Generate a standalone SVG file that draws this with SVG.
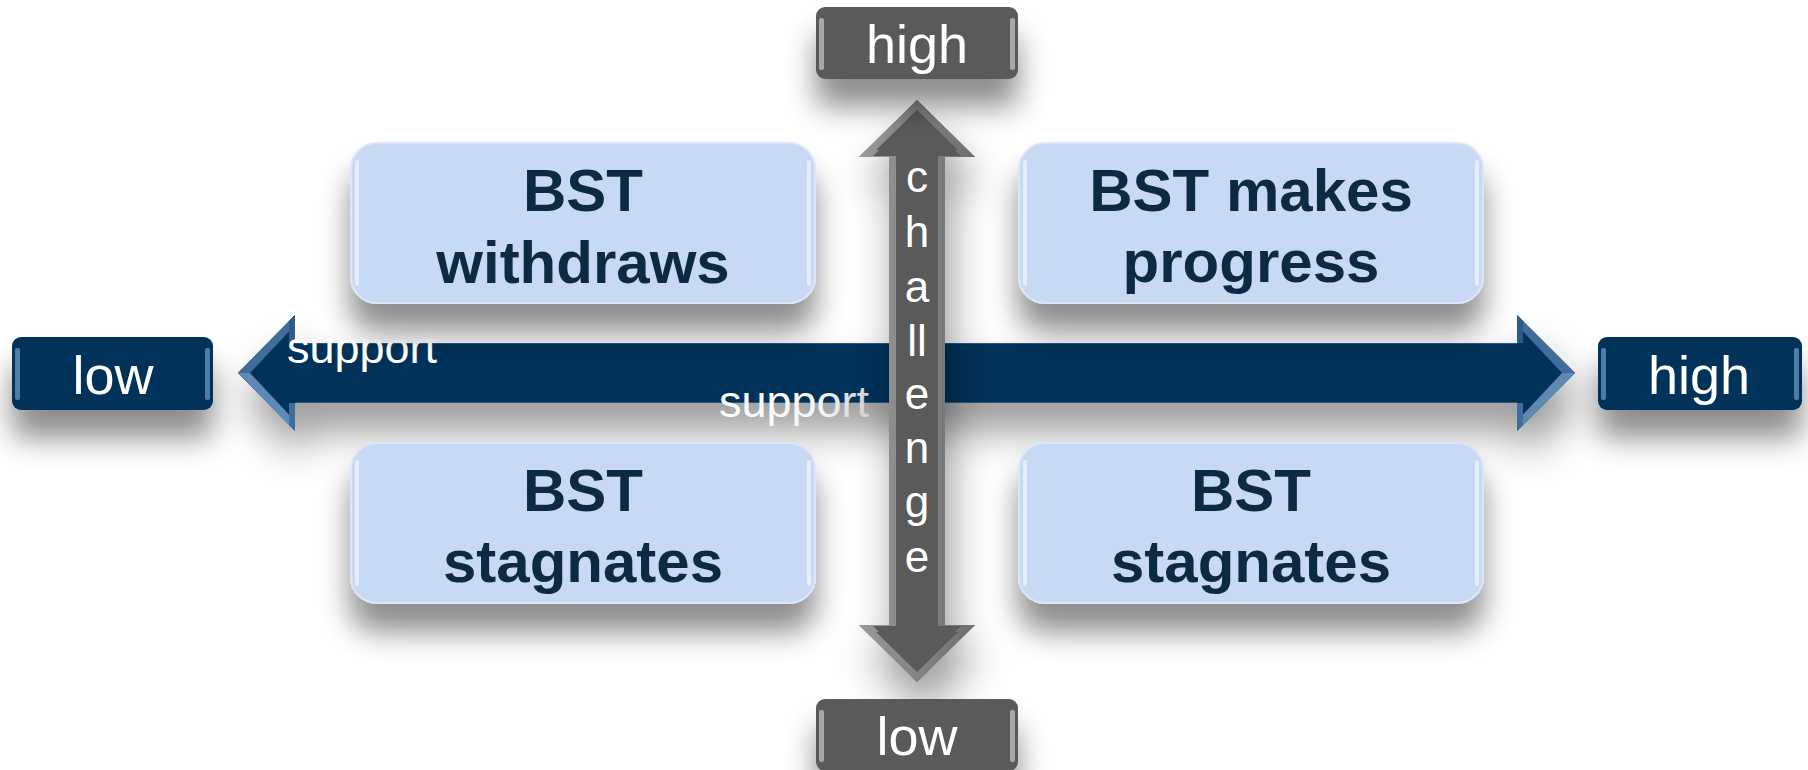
<svg xmlns="http://www.w3.org/2000/svg" width="1808" height="770" viewBox="0 0 1808 770">
<defs>
<style>
.quad rect.q{fill:#c8d9f4;stroke:#dbe6f8;stroke-width:2}
.qt{font-family:"Liberation Sans",Arial,sans-serif;font-weight:bold;font-size:60px;fill:#0f2944;text-anchor:middle}
.lt{font-family:"Liberation Sans",Arial,sans-serif;font-size:54px;fill:#ffffff;text-anchor:middle}
.st{font-family:"Liberation Sans",Arial,sans-serif;font-size:45px;fill:#ffffff}
.ch{font-family:"Liberation Sans",Arial,sans-serif;font-size:44px;fill:#ffffff;text-anchor:middle}
.navy{fill:#06325a}
.gray{fill:#5a5a5a}
.hl{fill:#ffffff;opacity:0.55}
</style>
<filter id="sh" filterUnits="userSpaceOnUse" x="-100" y="-100" width="2008" height="970">
<feGaussianBlur in="SourceAlpha" stdDeviation="15" result="b"/>
<feOffset in="b" dy="28" result="o"/>
<feComponentTransfer in="o" result="s"><feFuncA type="linear" slope="0.45"/></feComponentTransfer>
<feMerge><feMergeNode in="s"/><feMergeNode in="SourceGraphic"/></feMerge>
</filter>
<filter id="shA" filterUnits="userSpaceOnUse" x="-100" y="-100" width="2008" height="970">
<feGaussianBlur in="SourceAlpha" stdDeviation="20" result="b"/>
<feOffset in="b" dx="6" dy="28" result="o"/>
<feComponentTransfer in="o" result="s"><feFuncA type="linear" slope="0.4"/></feComponentTransfer>
<feMerge><feMergeNode in="s"/><feMergeNode in="SourceGraphic"/></feMerge>
</filter>
<linearGradient id="supg" x1="0" y1="0" x2="1" y2="0">
<stop offset="0" stop-color="#ffffff"/><stop offset="0.7" stop-color="#f4f4f4"/><stop offset="1" stop-color="#cfcfcf"/>
</linearGradient>
<linearGradient id="gbev" x1="0" y1="0" x2="1" y2="0">
<stop offset="0" stop-color="#9a9a9a"/><stop offset="1" stop-color="#6e6e6e"/>
</linearGradient>
<clipPath id="vclip"><polygon points="917,100 975,157 945,157 945,625 975,625 917,682 859,625 889,625 889,157 859,157"/></clipPath>
</defs>
<rect width="1808" height="770" fill="#ffffff"/>

<g id="connectors">
<g id="support-arrow" filter="url(#shA)">
<polygon class="navy" points="238,373 295,315 295,343 1517,343 1517,315 1575,373 1517,431 1517,403 295,403 295,431"/>
<polygon fill="#3f6e9a" points="238,373 295,315 295,325 250,373"/>
<polygon fill="#5d8ab4" points="238,373 250,373 295,421 295,431"/>
<polygon fill="#2f5c88" points="289,321 295,315 295,343 289,343"/>
<polygon fill="#3f6e9a" points="289,403 295,403 295,431 289,425"/>
<polygon fill="#3f6e9a" points="1575,373 1517,315 1517,325 1562,373"/>
<polygon fill="#5d8ab4" points="1575,373 1562,373 1517,421 1517,431"/>
<polygon fill="#2f5c88" points="1517,315 1523,321 1523,343 1517,343"/>
<polygon fill="#3f6e9a" points="1517,403 1523,403 1523,425 1517,431"/>
<line x1="295" y1="343.5" x2="1517" y2="343.5" stroke="#2a5580" stroke-width="1"/>
<line x1="295" y1="402.5" x2="1517" y2="402.5" stroke="#2a5580" stroke-width="1"/>
</g>
<g id="challenge-arrow" filter="url(#shA)">
<polygon class="gray" points="917,100 975,157 945,157 945,625 975,625 917,682 859,625 889,625 889,157 859,157"/>
<g clip-path="url(#vclip)">
<polygon fill="none" stroke="url(#gbev)" stroke-width="14" stroke-linejoin="miter" points="917,100 975,157 945,157 945,625 975,625 917,682 859,625 889,625 889,157 859,157"/>
</g>
<polygon class="gray" points="917,112 961,156 938,156 938,626 961,626 917,670 873,626 896,626 896,156 873,156"/>
</g>
</g>

<g id="label-support-1"><text class="st" x="287" y="363">support</text></g>
<g id="label-support-2"><text class="st" x="719" y="417" style="fill:url(#supg)">support</text></g>
<g id="label-challenge">
<text class="ch" x="917" y="192">c</text>
<text class="ch" x="917" y="247">h</text>
<text class="ch" x="917" y="302">a</text>
<text class="ch" x="917" y="356">ll</text>
<text class="ch" x="917" y="409">e</text>
<text class="ch" x="917" y="463">n</text>
<text class="ch" x="917" y="517">g</text>
<text class="ch" x="917" y="572">e</text>
</g>

<g id="q-withdraws" class="quad" filter="url(#sh)">
<rect class="q" x="351" y="143" width="464" height="160" rx="26"/>
<rect class="hl" x="355" y="160" width="4" height="126" rx="2"/>
<rect class="hl" x="807" y="160" width="4" height="126" rx="2"/>
<text class="qt" x="583" y="211">BST</text>
<text class="qt" x="583" y="283">withdraws</text>
</g>
<g id="q-progress" class="quad" filter="url(#sh)">
<rect class="q" x="1019" y="143" width="464" height="160" rx="26"/>
<rect class="hl" x="1023" y="160" width="4" height="126" rx="2"/>
<rect class="hl" x="1475" y="160" width="4" height="126" rx="2"/>
<text class="qt" x="1251" y="211">BST makes</text>
<text class="qt" x="1251" y="282">progress</text>
</g>
<g id="q-stagnates-left" class="quad" filter="url(#sh)">
<rect class="q" x="351" y="443" width="464" height="160" rx="26"/>
<rect class="hl" x="355" y="460" width="4" height="126" rx="2"/>
<rect class="hl" x="807" y="460" width="4" height="126" rx="2"/>
<text class="qt" x="583" y="511">BST</text>
<text class="qt" x="583" y="582">stagnates</text>
</g>
<g id="q-stagnates-right" class="quad" filter="url(#sh)">
<rect class="q" x="1019" y="443" width="464" height="160" rx="26"/>
<rect class="hl" x="1023" y="460" width="4" height="126" rx="2"/>
<rect class="hl" x="1475" y="460" width="4" height="126" rx="2"/>
<text class="qt" x="1251" y="511">BST</text>
<text class="qt" x="1251" y="582">stagnates</text>
</g>

<g id="challenge-high" filter="url(#sh)">
<rect class="gray" x="816" y="7" width="202" height="72" rx="9"/>
<rect fill="#a8a8a8" x="819" y="18" width="5" height="52" rx="2"/>
<rect fill="#a8a8a8" x="1010" y="18" width="5" height="52" rx="2"/>
<text class="lt" x="917" y="63">high</text>
</g>
<g id="challenge-low" filter="url(#sh)">
<rect class="gray" x="816" y="699" width="202" height="72" rx="9"/>
<rect fill="#a8a8a8" x="819" y="710" width="5" height="52" rx="2"/>
<rect fill="#a8a8a8" x="1010" y="710" width="5" height="52" rx="2"/>
<text class="lt" x="917" y="755">low</text>
</g>
<g id="support-low" filter="url(#sh)">
<rect class="navy" x="12" y="337" width="201" height="73" rx="9"/>
<rect fill="#4f7ca6" x="15" y="348" width="5" height="52" rx="2"/>
<rect fill="#4f7ca6" x="205" y="348" width="5" height="52" rx="2"/>
<text class="lt" x="113" y="394">low</text>
</g>
<g id="support-high" filter="url(#sh)">
<rect class="navy" x="1598" y="337" width="204" height="73" rx="9"/>
<rect fill="#4f7ca6" x="1601" y="348" width="5" height="52" rx="2"/>
<rect fill="#4f7ca6" x="1794" y="348" width="5" height="52" rx="2"/>
<text class="lt" x="1699" y="394">high</text>
</g>
</svg>
